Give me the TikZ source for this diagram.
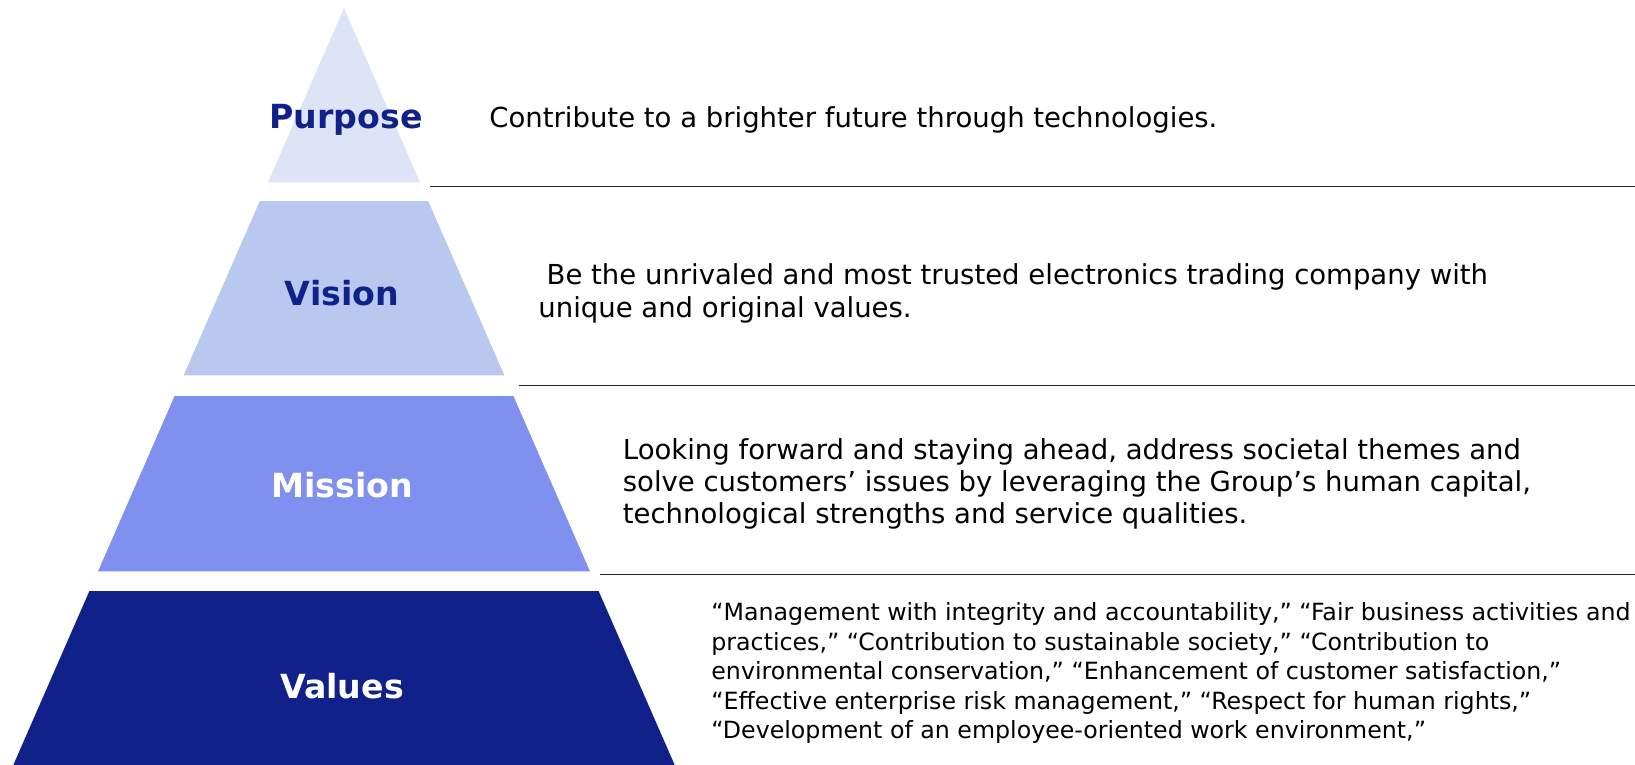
\documentclass[tikz,border=0pt]{standalone}
\usepackage{fontspec}
\setmainfont{DejaVu Sans}
\usepackage{xcolor}
\usepackage{tikz}
\usetikzlibrary{positioning}

\definecolor{purposefill}{HTML}{DDE4F6}
\definecolor{visionfill}{HTML}{B9C8EE}
\definecolor{missionfill}{HTML}{7F90EF}
\definecolor{valuesfill}{HTML}{10228A}

\begin{document}
\begin{tikzpicture}[
    x=0.5pt, y=-0.5pt,
    lbl/.style={font=\fontsize{16.6}{20}\selectfont\bfseries, text=valuesfill},
    lblw/.style={lbl, text=white},
    txt/.style={anchor=west, align=left, inner sep=0pt, font=\fontsize{13.75}{16.2}\selectfont},
    smalltxt/.style={anchor=west, align=left, inner sep=0pt, font=\fontsize{11.85}{14.75}\selectfont},
    sep/.style={draw=black!85, line width=0.65pt}
  ]
    \useasboundingbox (0,0) rectangle (1635,765);
    % pyramid layers
    \fill[purposefill] (344,8) -- (420.1,182.5) -- (267.9,182.5) -- cycle;
    \fill[visionfill] (259.7,201.2) -- (428.3,201.2) -- (504.4,375.4) -- (183.6,375.4) -- cycle;
    \fill[missionfill] (174.5,396.2) -- (513.5,396.2) -- (590,571.4) -- (98,571.4) -- cycle;
    \fill[valuesfill] (89.3,591.2) -- (598.7,591.2) -- (674.7,765) -- (13.3,765) -- cycle;
    \node[lbl] (purpose) at (346,120) {Purpose};
    \node[lbl] (vision) at (342,293) {Vision};
    \node[lblw] (mission) at (342,485) {Mission};
    \node[lblw] (values) at (342,686) {Values};
    % rules between the rows
    \coordinate (r1a) at (430,186.6);
    \coordinate (r1b) at (1635,186.6);
    \coordinate (r2a) at (519,385.8);
    \coordinate (r2b) at (1635,385.8);
    \coordinate (r3a) at (599.5,574.5);
    \coordinate (r3b) at (1635,574.5);
    \draw[sep] (r1a) -- (r1b);
    \draw[sep] (r2a) -- (r2b);
    \draw[sep] (r3a) -- (r3b);
    % statements
    \node[txt] (purposetxt) at (489,120) {Contribute to a brighter future through technologies.};
    \node[txt] (visiontxt) at (538,293.5) {\hspace*{0.3em}Be the unrivaled and most trusted electronics trading company with\\unique and original values.};
    \node[txt] (missiontxt) at (622.5,484) {Looking forward and staying ahead, address societal themes and\\solve customers’ issues by leveraging the Group’s human capital,\\technological strengths and service qualities.};
    \node[smalltxt] (valuestxt) at (711,673) {“Management with integrity and accountability,” “Fair business activities and\\practices,” “Contribution to sustainable society,” “Contribution to\\environmental conservation,” “Enhancement of customer satisfaction,”\\“Effective enterprise risk management,” “Respect for human rights,”\\“Development of an employee-oriented work environment,”};
\end{tikzpicture}
\end{document}
